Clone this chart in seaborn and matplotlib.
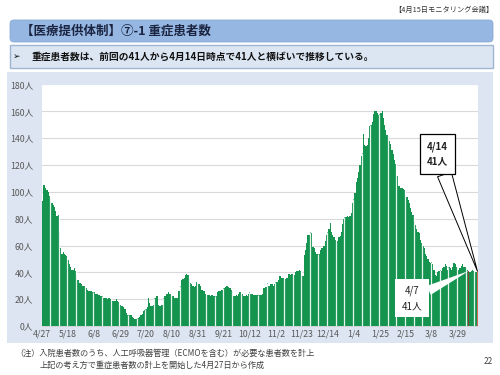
import numpy as np
import pandas as pd
import matplotlib
matplotlib.use("Agg")
import matplotlib.pyplot as plt
import seaborn as sns
from matplotlib.patches import FancyBboxPatch, Rectangle

# ---------------- data ----------------
start_date = "2020-04-27"
severe = [
    93, 105, 105, 103, 101, 100, 97,
    95, 92, 90, 89, 86, 82, 83,
    70, 58, 54, 55, 54, 53, 52,
    49, 46, 44, 42, 42, 43, 41,
    38, 34, 32, 32, 31, 30, 30,
    28, 28, 27, 26, 26, 26, 25,
    25, 24, 24, 24, 23, 22, 22,
    22, 21, 21, 21, 20, 21, 20,
    19, 19, 19, 19, 20, 19, 18,
    16, 15, 15, 14, 13, 10, 8,
    8, 8, 8, 7, 6, 5, 5,
    6, 6, 7, 8, 9, 11, 12,
    13, 14, 21, 17, 15, 15, 16,
    21, 21, 22, 16, 15, 15, 16,
    21, 22, 22, 24, 25, 24, 24,
    22, 22, 21, 21, 21, 26, 26,
    30, 34, 35, 36, 38, 39, 38,
    35, 32, 31, 30, 29, 30, 33,
    31, 31, 30, 27, 27, 26, 24,
    23, 23, 23, 22, 23, 23, 22,
    22, 22, 25, 26, 26, 27, 27,
    28, 29, 30, 30, 29, 28, 27,
    26, 22, 22, 23, 22, 24, 25,
    24, 24, 22, 22, 23, 22, 24,
    25, 24, 24, 23, 23, 23, 23,
    23, 23, 23, 24, 28, 28, 29,
    32, 30, 30, 31, 31, 30, 31,
    33, 33, 34, 37, 37, 36, 36,
    35, 35, 36, 39, 39, 38, 39,
    38, 38, 40, 41, 41, 42, 41,
    37, 37, 53, 57, 62, 68, 68,
    70, 69, 59, 58, 55, 54, 54,
    54, 57, 58, 58, 60, 63, 68,
    70, 72, 77, 70, 68, 66, 64,
    63, 63, 66, 67, 70, 76, 80,
    81, 81, 82, 81, 82, 84, 92,
    95, 99, 107, 110, 115, 120, 127,
    129, 143, 135, 134, 135, 140, 149,
    150, 152, 158, 160, 160, 159, 157,
    158, 159, 160, 155, 150, 146, 142,
    141, 138, 136, 131, 128, 124, 121,
    112, 104, 104, 103, 103, 102, 101,
    97, 96, 94, 92, 88, 85, 83,
    78, 75, 72, 70, 69, 64, 62,
    60, 58, 54, 52, 50, 48, 47,
    48, 46, 42, 38, 37, 40, 41,
    42, 41, 43, 44, 46, 45, 42,
    44, 43, 42, 44, 47, 46, 44,
    43, 42, 43, 45, 46, 44, 44,
    43, 42, 41, 40, 41, 42, 41,
    40, 40, 41,
]
tick_labels = ["4/27", "5/18", "6/8", "6/29", "7/20", "8/10", "8/31", "9/21",
               "10/12", "11/2", "11/23", "12/14", "1/4", "1/25", "2/15", "3/8", "3/29"]
y_ticks = [0, 20, 40, 60, 80, 100, 120, 140, 160, 180]
prev_date = "2021-04-07"
latest_date = "2021-04-14"

dates = pd.date_range(start_date, periods=len(severe))
df = pd.DataFrame({"day": np.arange(len(severe)), "value": severe, "date": dates})
df["kind"] = "normal"
df.loc[df["date"] == pd.Timestamp(prev_date), "kind"] = "prev"
df.loc[df["date"] == pd.Timestamp(latest_date), "kind"] = "latest"
tick_pos = list(range(0, len(severe), 21))[:len(tick_labels)]

# ---------------- style ----------------
sns.set_theme(style="white")
plt.rcParams["font.family"] = ["Noto Sans CJK JP", "DejaVu Sans"]

W, H = 500, 375
fig = plt.figure(figsize=(5, 3.75), dpi=100)
fig.patch.set_facecolor("white")

# background axes in pixel coordinates (y downward)
bg = fig.add_axes([0, 0, 1, 1], zorder=0)
bg.set_xlim(0, W)
bg.set_ylim(H, 0)
bg.axis("off")

# chart panel
bg.add_patch(Rectangle((7, 72), 486, 271, fc="#DCE5F1", ec="none"))
# title bar
bg.add_patch(FancyBboxPatch((10, 20), 483, 22, boxstyle="round,pad=0,rounding_size=4",
                            fc="#95B7E2", ec="#8AAAD3", lw=0.6))
# subtitle box
bg.add_patch(Rectangle((10, 45), 483, 23, fc="#DCE6F2", ec="#9FB6D2", lw=1.0))

bg.text(493, 9.5, "【4月15日モニタリング会議】", fontsize=5.2, ha="right", va="center", color="#333333")
bg.text(21, 31.5, "【医療提供体制】⑦-1 重症患者数", fontsize=9, fontweight="bold",
        ha="left", va="center", color="#1B2440")
bg.text(13, 56.5, "➢", fontsize=6.5, ha="left", va="center", color="#111111",
        family=["DejaVu Sans"])
bg.text(32, 56.5, "重症患者数は、前回の41人から4月14日時点で41人と横ばいで推移している。",
        fontsize=7, fontweight="bold", ha="left", va="center", color="#111111")
bg.text(15, 353.5, "（注）入院患者数のうち、人工呼吸器管理（ECMOを含む）が必要な患者数を計上",
        fontsize=5.9, ha="left", va="center", color="#404040")
bg.text(40, 365.5, "上記の考え方で重症患者数の計上を開始した4月27日から作成",
        fontsize=5.9, ha="left", va="center", color="#404040")
bg.text(493, 361, "22", fontsize=5.9, ha="right", va="center", color="#404040")

# chart axes
ax_left, ax_right, ax_top, ax_bottom = 41.5, 478, 84.5, 326
ax = fig.add_axes([ax_left / W, 1 - ax_bottom / H, (ax_right - ax_left) / W,
                   (ax_bottom - ax_top) / H], zorder=1)
ax.set_facecolor("white")

palette = {"normal": "#00A94F", "prev": "#9A3A1C", "latest": "#F0553A"}
sns.barplot(data=df, x="day", y="value", hue="kind", palette=palette, width=1.0,
            linewidth=0, legend=False, ax=ax, zorder=2)

# thin weekly white separators (as in the original rendering)
vals = np.array(severe)
bounds = np.arange(6, len(severe) - 1, 7)
ax.vlines(bounds + 0.5, 0, np.maximum(vals[bounds], vals[bounds + 1]),
          color="white", lw=0.9, alpha=0.9, zorder=3)

ax.set_xlim(-0.5, len(severe) - 0.5)
ax.set_ylim(0, 180)
ax.set_yticks(y_ticks)
ax.set_yticklabels([f"{v}人" for v in y_ticks])
ax.set_xticks(tick_pos)
ax.set_xticklabels(tick_labels)
ax.tick_params(axis="x", length=0, pad=2.5, labelsize=6.3, labelcolor="#595959")
ax.tick_params(axis="y", length=0, pad=6, labelsize=6.3, labelcolor="#595959")
ax.set_xlabel("")
ax.set_ylabel("")
ax.set_axisbelow(True)
ax.yaxis.grid(True, color="#D9D9D9", lw=0.8, zorder=0)
for s in ["top", "right", "left"]:
    ax.spines[s].set_visible(False)
ax.spines["bottom"].set_color("#D0D0D0")
ax.spines["bottom"].set_linewidth(0.6)

# annotations
i_prev = int(df.index[df["kind"] == "prev"][0])
i_last = int(df.index[df["kind"] == "latest"][0])

ax.annotate(f"{latest_date[5:7].lstrip('0')}/{latest_date[8:].lstrip('0')}\n{severe[i_last]}人",
            xy=(i_last, severe[i_last]), xycoords="data",
            xytext=(437.5, H - 154), textcoords="figure pixels",
            ha="center", va="center", fontsize=7, fontweight="bold", linespacing=1.6,
            color="#222222",
            bbox=dict(boxstyle="square,pad=0.75", fc="white", ec="black", lw=0.9),
            arrowprops=dict(arrowstyle="wedge,tail_width=1.5,shrink_factor=0.5",
                            fc="white", ec="black", lw=0.7, shrinkA=0, shrinkB=0),
            zorder=5)

ax.annotate(f"{prev_date[5:7].lstrip('0')}/{prev_date[8:].lstrip('0')}\n{severe[i_prev]}人",
            xy=(i_prev, severe[i_prev]), xycoords="data",
            xytext=(412, H - 298.5), textcoords="figure pixels",
            ha="center", va="center", fontsize=7, linespacing=1.6,
            color="#222222",
            bbox=dict(boxstyle="square,pad=0.65", fc="white", ec="none"),
            arrowprops=dict(arrowstyle="wedge,tail_width=1.0,shrink_factor=0.5",
                            fc="white", ec="none", shrinkA=0, shrinkB=0),
            zorder=5)

fig.savefig("out.png", dpi=100, facecolor="white")
